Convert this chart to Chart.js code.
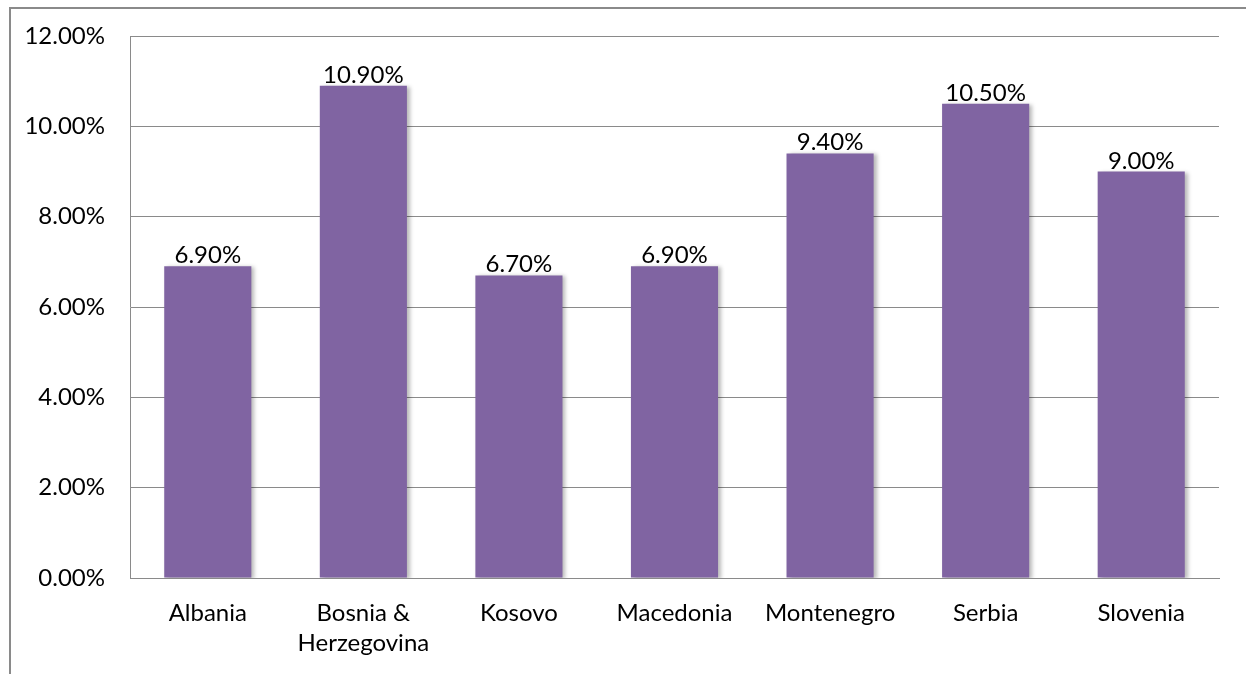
<!DOCTYPE html>
<html>
<head>
<meta charset="utf-8">
<script src="https://cdn.jsdelivr.net/npm/chart.js@4"></script>
<style>
  body { margin: 0; background: #fff; overflow: hidden; }
  #wrap { position: relative; width: 1246px; height: 674px; }
  #frame { position: absolute; left: 9px; top: 7px; width: 1300px; height: 700px; border: 2px solid #8a8a8a; }
  canvas { position: absolute; left: 0; top: 0; }
</style>
</head>
<body>
<div id="wrap">
  <div id="frame"></div>
  <canvas id="myChart" width="1246" height="674"></canvas>
</div>
<script>
var countries = ['Albania', ['Bosnia &', 'Herzegovina'], 'Kosovo', 'Macedonia', 'Montenegro', 'Serbia', 'Slovenia'];
var rates = [6.9, 10.9, 6.7, 6.9, 9.4, 10.5, 9.0];
var yTicks = [0, 2, 4, 6, 8, 10, 12];

var FONT = 'Lato';

// shadow on the bars
var barShadow = {
	id: 'barShadow',
	beforeDatasetDraw: function(chart) {
		var ctx = chart.ctx;
		ctx.save();
		ctx.shadowColor = 'rgba(0,0,0,0.28)';
		ctx.shadowBlur = 4;
		ctx.shadowOffsetX = 3;
		ctx.shadowOffsetY = 1;
	},
	afterDatasetDraw: function(chart) {
		chart.ctx.restore();
	}
};

// value labels above each bar
var valueLabels = {
	id: 'valueLabels',
	afterDatasetsDraw: function(chart) {
		var ctx = chart.ctx;
		var meta = chart.getDatasetMeta(0);
		ctx.save();
		ctx.fillStyle = '#000';
		ctx.font = '24px ' + FONT;
		ctx.textAlign = 'center';
		ctx.textBaseline = 'alphabetic';
		meta.data.forEach(function(bar, i) {
			ctx.fillText(rates[i].toFixed(2) + '%', bar.x, bar.y - 3);
		});
		ctx.restore();
	}
};

var ctx = document.getElementById('myChart');
var myChart = new Chart(ctx, {
	type: 'bar',
	data: {
		labels: countries,
		datasets: [{
			data: rates,
			backgroundColor: '#8064A2',
			borderWidth: 0,
			barPercentage: 0.56,
			categoryPercentage: 1
		}]
	},
	options: {
		responsive: false,
		animation: false,
		layout: { padding: { top: 36, right: 27, left: 0, bottom: 0 } },
		plugins: {
			legend: { display: false },
			tooltip: { enabled: false }
		},
		scales: {
			x: {
				grid: { display: false, drawTicks: false },
				border: { color: '#8a8a8a', width: 1 },
				ticks: {
					color: '#000',
					font: { family: FONT, size: 24, lineHeight: 1.25 },
					padding: 20,
					maxRotation: 0,
					autoSkip: false
				},
				afterFit: function(scale) { scale.height = 96; }
			},
			y: {
				min: 0,
				max: 12,
				afterBuildTicks: function(scale) {
					scale.ticks = yTicks.map(function(v) { return { value: v }; });
				},
				grid: { color: '#8a8a8a', lineWidth: 1, drawTicks: false },
				border: { color: '#8a8a8a', width: 1 },
				ticks: {
					color: '#000',
					font: { family: FONT, size: 24 },
					padding: 25,
					callback: function(v) { return v.toFixed(2) + '%'; }
				},
				afterFit: function(scale) {
					scale.width = 130;
					scale.paddingTop = 0;
					scale.paddingBottom = 0;
				}
			}
		}
	},
	plugins: [barShadow, valueLabels]
});
</script>
</body>
</html>
